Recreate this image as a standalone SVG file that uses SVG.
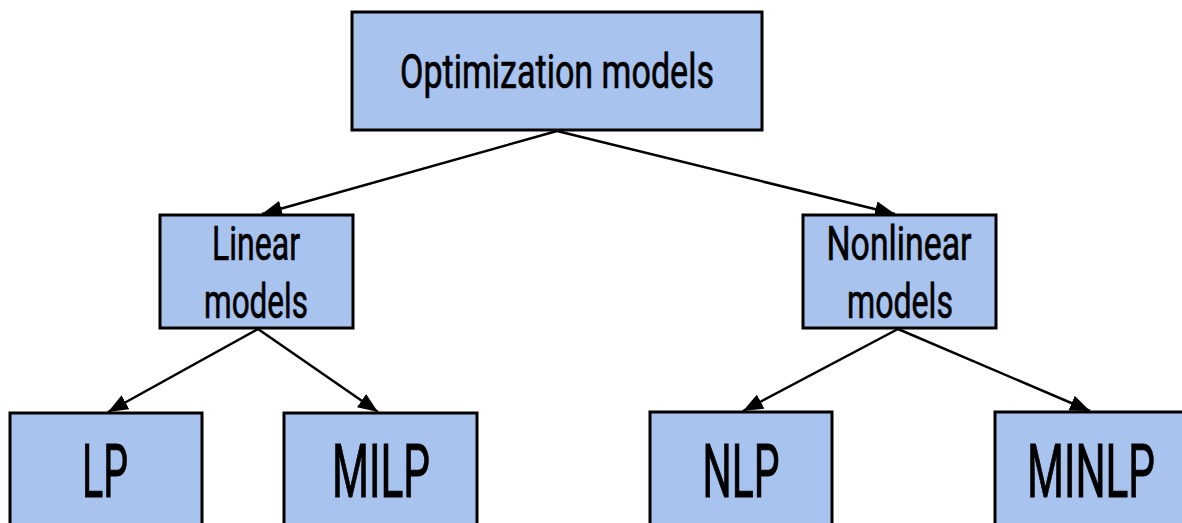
<svg xmlns="http://www.w3.org/2000/svg" width="1182" height="523" viewBox="0 0 1182 523">
  <style>
    .box { fill: #a9c3ef; stroke: #000; stroke-width: 3; }
    .lbl { font-family: Roboto, "Liberation Sans", sans-serif; font-weight: 400; fill: #000; stroke: #000; stroke-width: 0.7; text-anchor: middle; }
    .mid { font-size: 48px; }
    .leaf { font-size: 74px; stroke-width: 1; }
    .edge { stroke: #000; stroke-width: 2.5; fill: none; marker-end: url(#head); }
  </style>
  <defs>
    <marker id="head" markerUnits="userSpaceOnUse" markerWidth="20" markerHeight="16" viewBox="0 0 20 16" refX="20" refY="8" orient="auto">
      <path d="M0,0 L20,8 L0,16 z" fill="#000"/>
    </marker>
  </defs>

  <!-- connectors -->
  <g id="edges">
    <line class="edge" x1="557" y1="131" x2="262" y2="214"/>
    <line class="edge" x1="557" y1="131" x2="895" y2="214"/>
    <line class="edge" x1="258" y1="329" x2="108" y2="412"/>
    <line class="edge" x1="258" y1="329" x2="378" y2="412"/>
    <line class="edge" x1="898" y1="329" x2="743" y2="411"/>
    <line class="edge" x1="898" y1="329" x2="1090" y2="411"/>
  </g>

  <g id="optimization">
    <rect class="box" x="352" y="12" width="410" height="118"/>
    <text class="lbl mid" x="557" y="88" textLength="314" lengthAdjust="spacingAndGlyphs">Optimization models</text>
  </g>

  <g id="linear">
    <rect class="box" x="160" y="215" width="193" height="113"/>
    <text class="lbl mid" x="256" y="260" textLength="88" lengthAdjust="spacingAndGlyphs">Linear</text>
    <text class="lbl mid" x="256" y="318" textLength="104" lengthAdjust="spacingAndGlyphs">models</text>
  </g>

  <g id="nonlinear">
    <rect class="box" x="803" y="215" width="193" height="113"/>
    <text class="lbl mid" x="899" y="260" textLength="145" lengthAdjust="spacingAndGlyphs">Nonlinear</text>
    <text class="lbl mid" x="900" y="318" textLength="106" lengthAdjust="spacingAndGlyphs">models</text>
  </g>

  <g id="lp">
    <rect class="box" x="10" y="413" width="192" height="130"/>
    <text class="lbl leaf" x="105" y="497" textLength="46" lengthAdjust="spacingAndGlyphs">LP</text>
  </g>

  <g id="milp">
    <rect class="box" x="284" y="413" width="193" height="130"/>
    <text class="lbl leaf" x="381" y="497" textLength="98" lengthAdjust="spacingAndGlyphs">MILP</text>
  </g>

  <g id="nlp">
    <rect class="box" x="650" y="412" width="182" height="130"/>
    <text class="lbl leaf" x="741" y="497" textLength="77" lengthAdjust="spacingAndGlyphs">NLP</text>
  </g>

  <g id="minlp">
    <rect class="box" x="995" y="412" width="210" height="130"/>
    <text class="lbl leaf" x="1091" y="497" textLength="128" lengthAdjust="spacingAndGlyphs">MINLP</text>
  </g>
</svg>
